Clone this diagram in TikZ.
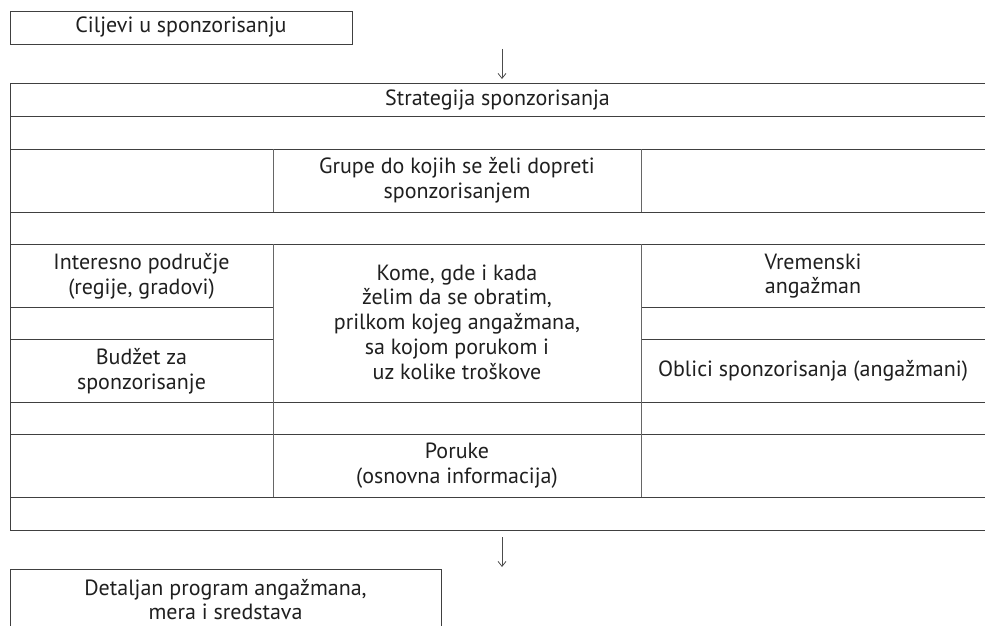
\documentclass[tikz,border=0pt]{standalone}
\usepackage{fontspec}
\setmainfont{PT Sans}
\usetikzlibrary{arrows.meta}
\begin{document}
\begin{tikzpicture}[x=1pt,y=-1pt,
  rule/.style={draw=black!75,line width=0.9pt},
  vrule/.style={draw=black!60,line width=0.9pt},
  txt/.style={align=center,font=\fontsize{22}{24.8}\selectfont,inner sep=0pt,text=black!88},
  arr/.style={draw=black!70,line width=0.8pt,-{Straight Barb[length=5pt,width=8pt]}}]
\useasboundingbox (0,0) rectangle (985,626);
% top box
\node[txt,draw=black!75,line width=0.9pt,minimum width=342pt,minimum height=33pt] (goal) at (181,27.5) {Ciljevi u sponzorisanju};
% arrows
\coordinate (a1s) at (502,49);
\coordinate (a1e) at (502,79);
\coordinate (a2s) at (502,537);
\coordinate (a2e) at (502,567);
\draw[arr] (a1s) -- (a1e);
\draw[arr] (a2s) -- (a2e);
% table rules
\foreach \y in {83,116,149,212,244,402,434,497,530} \draw[rule] (10,\y) -- (985,\y);
\foreach \y in {307,339} {\draw[rule] (10,\y) -- (273,\y); \draw[rule] (641,\y) -- (985,\y);}
\draw[rule] (10,83) -- (10,530);
\foreach \x in {273,641} {\draw[vrule] (\x,149) -- (\x,212); \draw[vrule] (\x,244) -- (\x,497);}
% texts
\node[txt] (strat) at (497.5,99.5) {Strategija sponzorisanja};
\node[txt] (grupe) at (457,180.5) {Grupe do kojih se želi dopreti\\sponzorisanjem};
\node[txt] (inter) at (141.5,276) {Interesno područje\\(regije, gradovi)};
\node[txt] (budz) at (141.5,371) {Budžet za\\sponzorisanje};
\node[txt] (kome) at (457,322) {Kome, gde i kada\\želim da se obratim,\\prilkom kojeg angažmana,\\sa kojom porukom i\\uz kolike troškove};
\node[txt] (vrem) at (813,276) {Vremenski\\angažman};
\node[txt] (obl) at (813,370.5) {Oblici sponzorisanja (angažmani)};
\node[txt] (poruke) at (457,466) {Poruke\\(osnovna informacija)};
% bottom box
\draw[rule] (10,626) -- (10,569) -- (441,569) -- (441,626);
\node[txt] (detalj) at (225.5,599.5) {Detaljan program angažmana,\\mera i sredstava};
\end{tikzpicture}
\end{document}
